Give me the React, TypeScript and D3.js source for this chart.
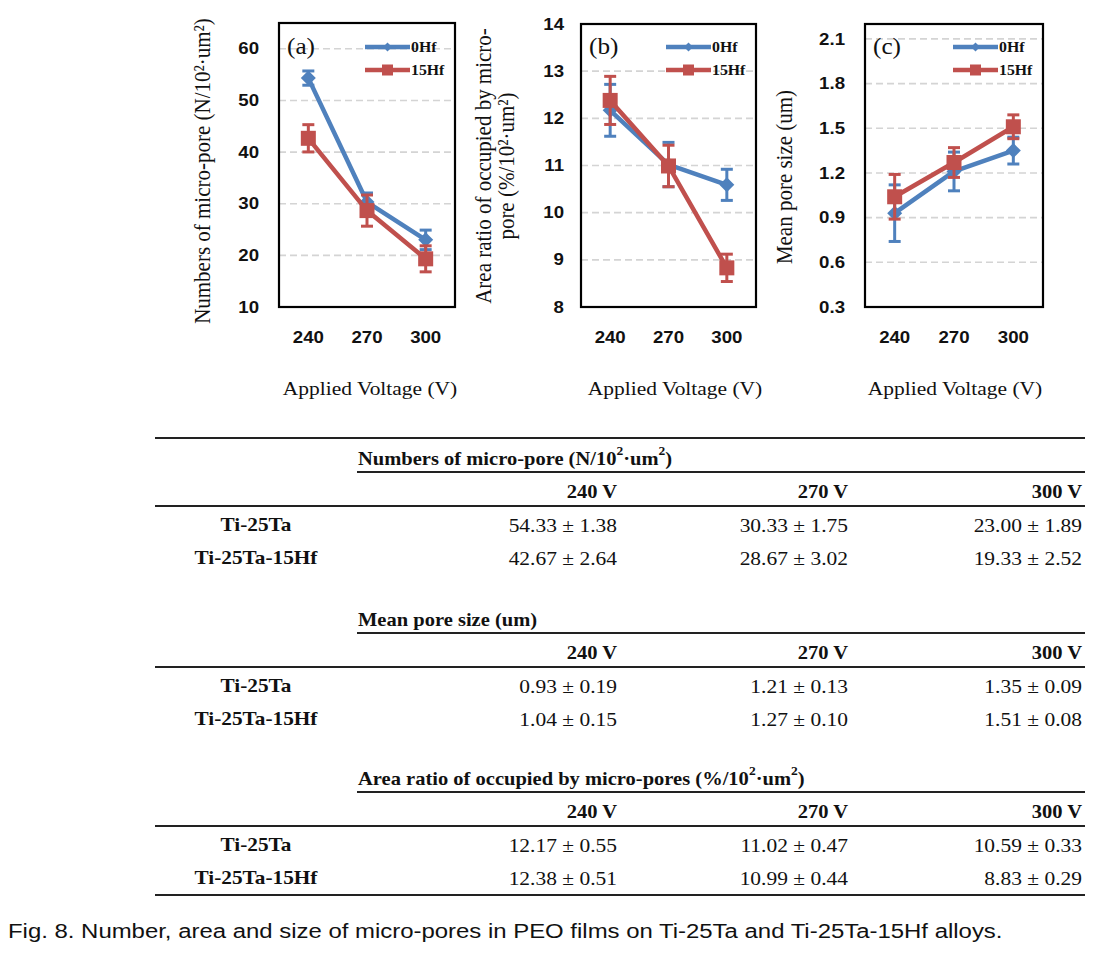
import React from "react";
import * as d3 from "d3";

// ---------- data ----------
const voltages = ["240", "270", "300"];
const seriesNames = ["0Hf", "15Hf"];
const alloyNames = ["Ti-25Ta", "Ti-25Ta-15Hf"];

const poreCount0Hf = [54.33, 30.33, 23.0];
const poreCountErr0Hf = [1.38, 1.75, 1.89];
const poreCount15Hf = [42.67, 28.67, 19.33];
const poreCountErr15Hf = [2.64, 3.02, 2.52];

const areaRatio0Hf = [12.17, 11.02, 10.59];
const areaRatioErr0Hf = [0.55, 0.47, 0.33];
const areaRatio15Hf = [12.38, 10.99, 8.83];
const areaRatioErr15Hf = [0.51, 0.44, 0.29];

const poreSize0Hf = [0.93, 1.21, 1.35];
const poreSizeErr0Hf = [0.19, 0.13, 0.09];
const poreSize15Hf = [1.04, 1.27, 1.51];
const poreSizeErr15Hf = [0.15, 0.1, 0.08];

const ticksA = [10, 20, 30, 40, 50, 60];
const ticksB = [8, 9, 10, 11, 12, 13, 14];
const ticksC = [0.3, 0.6, 0.9, 1.2, 1.5, 1.8, 2.1];

const BLUE = "#4F81BD";
const RED = "#C0504D";
const SERIF = "'Liberation Serif', 'Times New Roman', serif";
const SANS = "'Liberation Sans', Arial, sans-serif";
const SX = 1.13; // horizontal stretch of the reference image

// render "²" as a real superscript
function withSup(s: string, size: number): React.ReactNode {
  const parts = s.split("²");
  const out: React.ReactNode[] = [];
  const up = size * 0.38;
  parts.forEach((p, i) => {
    if (i > 0) {
      out.push(<tspan key={`s${i}`} dy={-up} fontSize={size * 0.66}>2</tspan>);
      out.push(<tspan key={`p${i}`} dy={up}>{p}</tspan>);
    } else out.push(<tspan key={`p${i}`}>{p}</tspan>);
  });
  return out;
}

type TProps = {
  x: number; y: number; anchor?: string; sx?: number; size: number; family?: string;
  weight?: string; rotate?: number; children: React.ReactNode; fill?: string; baseline?: string;
};
function T({ x, y, anchor = "start", sx = SX, size, family = SERIF, weight = "normal", rotate = 0, children, fill = "#111", baseline = "central" }: TProps) {
  return (
    <text transform={`translate(${x},${y}) rotate(${rotate}) scale(${rotate ? 1 : sx},${rotate ? sx : 1})`}
      textAnchor={anchor} dominantBaseline={baseline} fontFamily={family} fontWeight={weight}
      fontSize={size} fill={fill}>{children}</text>
  );
}

type Panel = {
  label: string;
  x0: number; x1: number; y0: number; y1: number;
  domain: [number, number];
  ticks: number[];
  fmt: (v: number) => string;
  tickRight: number;
  titleLines: string[];
  titleXs: number[];
  titleY: number;
  xTitleX: number;
  s0: number[]; e0: number[]; s1: number[]; e1: number[];
};

const panels: Panel[] = [
  {
    label: "(a)", x0: 279, x1: 455, y0: 23, y1: 307, domain: [10, 65], ticks: ticksA,
    fmt: (v) => String(v), tickRight: 259,
    titleLines: ["Numbers of micro-pore (N/10²·um²)"], titleXs: [202], titleY: 171, xTitleX: 370,
    s0: poreCount0Hf, e0: poreCountErr0Hf, s1: poreCount15Hf, e1: poreCountErr15Hf,
  },
  {
    label: "(b)", x0: 581, x1: 756, y0: 24, y1: 307, domain: [8, 14], ticks: ticksB,
    fmt: (v) => String(v), tickRight: 564,
    titleLines: ["Area ratio of occupied by micro-", "pore (%/10²·um²)"], titleXs: [483, 506], titleY: 166, xTitleX: 675,
    s0: areaRatio0Hf, e0: areaRatioErr0Hf, s1: areaRatio15Hf, e1: areaRatioErr15Hf,
  },
  {
    label: "(c)", x0: 865, x1: 1043, y0: 24, y1: 307, domain: [0.3, 2.2], ticks: ticksC,
    fmt: (v) => v.toFixed(1), tickRight: 845,
    titleLines: ["Mean pore size (um)"], titleXs: [784], titleY: 177, xTitleX: 955,
    s0: poreSize0Hf, e0: poreSizeErr0Hf, s1: poreSize15Hf, e1: poreSizeErr15Hf,
  },
];

const diamond = (r: number) => `M0,${-r}L${r},0L0,${r}L${-r},0Z`;

function Marker({ kind, x, y, size }: { kind: number; x: number; y: number; size: number }) {
  if (kind === 0) return <path d={diamond(size / 2)} transform={`translate(${x},${y})`} fill={BLUE} />;
  return <rect x={x - size / 2} y={y - size / 2} width={size} height={size} fill={RED} />;
}

function ChartPanel({ p }: { p: Panel }) {
  const x = d3.scaleBand().domain(voltages).range([p.x0, p.x1]);
  const y = d3.scaleLinear().domain(p.domain).range([p.y1, p.y0]);
  const cx = (v: string) => (x(v) as number) + x.bandwidth() / 2;
  const line = d3.line<number>().x((_, i) => cx(voltages[i])).y((d) => y(d));
  const series = [
    { vals: p.s0, errs: p.e0, color: BLUE, kind: 0, size: 15 },
    { vals: p.s1, errs: p.e1, color: RED, kind: 1, size: 15 },
  ];
  return (
    <g>
      {p.ticks.filter((t) => t !== p.domain[0]).map((t) => (
        <line key={t} x1={p.x0} x2={p.x1} y1={y(t)} y2={y(t)} stroke="#D4D4D4" strokeWidth={1.6} strokeDasharray="7 4" />
      ))}
      {p.ticks.map((t) => (
        <T key={t} x={p.tickRight} y={y(t)} anchor="end" family={SANS} weight="bold" size={16.5}>{p.fmt(t)}</T>
      ))}
      {voltages.map((v) => (
        <T key={v} x={cx(v)} y={337} anchor="middle" family={SANS} weight="bold" size={16.5}>{v}</T>
      ))}
      <T x={p.xTitleX} y={388} anchor="middle" size={19}>Applied Voltage (V)</T>
      {p.titleLines.map((t, i) => (
        <T key={i} x={p.titleXs[i]} y={p.titleY} anchor="middle" rotate={-90} size={21}>{t}</T>
      ))}
      {series.map((s, si) => (
        <g key={si}>
          <path d={line(s.vals) || ""} fill="none" stroke={s.color} strokeWidth={4.5} strokeLinejoin="round" />
          {s.vals.map((v, i) => {
            const xx = cx(voltages[i]);
            const top = y(v + s.errs[i]);
            const bot = y(v - s.errs[i]);
            return (
              <g key={i} stroke={s.color} strokeWidth={3}>
                <line x1={xx} x2={xx} y1={top} y2={bot} />
                <line x1={xx - 6} x2={xx + 6} y1={top} y2={top} />
                <line x1={xx - 6} x2={xx + 6} y1={bot} y2={bot} />
              </g>
            );
          })}
          {s.vals.map((v, i) => (
            <Marker key={i} kind={s.kind} x={cx(voltages[i])} y={y(v)} size={s.size} />
          ))}
        </g>
      ))}
      <rect x={p.x0} y={p.y0} width={p.x1 - p.x0} height={p.y1 - p.y0} fill="none" stroke="#000" strokeWidth={2.2} />
      <T x={p.x0 + 8} y={54} size={24} baseline="alphabetic" sx={1.05}>{p.label}</T>
      {seriesNames.map((n, i) => {
        const ly = 47 + i * 23;
        const lx0 = p.x1 - 90;
        const lx1 = p.x1 - 45;
        return (
          <g key={n}>
            <line x1={lx0} x2={lx1} y1={ly} y2={ly} stroke={i === 0 ? BLUE : RED} strokeWidth={4.5} />
            <Marker kind={i} x={(lx0 + lx1) / 2} y={ly} size={i === 0 ? 9 : 11} />
            <T x={lx1 + 1} y={ly} weight="bold" size={15.5} sx={1.02}>{n}</T>
          </g>
        );
      })}
    </g>
  );
}

type Section = { title: string; top: number; m0: number[]; e0: number[]; m1: number[]; e1: number[] };

const sections: Section[] = [
  { title: "Numbers of micro-pore (N/10²·um²)", top: 458, m0: poreCount0Hf, e0: poreCountErr0Hf, m1: poreCount15Hf, e1: poreCountErr15Hf },
  { title: "Mean pore size (um)", top: 619, m0: poreSize0Hf, e0: poreSizeErr0Hf, m1: poreSize15Hf, e1: poreSizeErr15Hf },
  { title: "Area ratio of occupied by micro-pores (%/10²·um²)", top: 778, m0: areaRatio0Hf, e0: areaRatioErr0Hf, m1: areaRatio15Hf, e1: areaRatioErr15Hf },
];

const colRight = [617, 848, 1082];

function TableSection({ s }: { s: Section }) {
  const rows = [
    { name: alloyNames[0], m: s.m0, e: s.e0 },
    { name: alloyNames[1], m: s.m1, e: s.e1 },
  ];
  return (
    <g>
      <T x={358} y={s.top} weight="bold" size={18} sx={1.14}>{withSup(s.title, 18)}</T>
      <line x1={357} x2={1085} y1={s.top + 14} y2={s.top + 14} stroke="#222" strokeWidth={1.8} />
      {voltages.map((v, i) => (
        <T key={v} x={colRight[i]} y={s.top + 34} anchor="end" weight="bold" size={18} sx={1.14}>{`${v} V`}</T>
      ))}
      <line x1={155} x2={1085} y1={s.top + 48} y2={s.top + 48} stroke="#222" strokeWidth={1.8} />
      {rows.map((r, ri) => (
        <g key={ri}>
          <T x={256} y={s.top + 67 + ri * 33} anchor="middle" weight="bold" size={18.5} sx={1.15}>{r.name}</T>
          {r.m.map((m, i) => (
            <T key={i} x={colRight[i]} y={s.top + 67 + ri * 33} anchor="end" size={19} sx={1.13}>
              {`${m.toFixed(2)} ± ${r.e[i].toFixed(2)}`}
            </T>
          ))}
        </g>
      ))}
    </g>
  );
}

export default function App() {
  return (
    <svg width={1105} height={955} viewBox="0 0 1105 955"
      style={{ position: "absolute", left: 0, top: 0, background: "#fff", display: "block" }}>
      <rect x={0} y={0} width={1105} height={955} fill="#fff" />
      {panels.map((p) => <ChartPanel key={p.label} p={p} />)}
      <line x1={155} x2={1085} y1={438} y2={438} stroke="#222" strokeWidth={2} />
      {sections.map((s) => <TableSection key={s.title} s={s} />)}
      <line x1={155} x2={1085} y1={895} y2={895} stroke="#222" strokeWidth={2} />
      <T x={8} y={938} size={21} family={SANS} sx={1.14} baseline="alphabetic">
        Fig. 8. Number, area and size of micro-pores in PEO films on Ti-25Ta and Ti-25Ta-15Hf alloys.
      </T>
    </svg>
  );
}
